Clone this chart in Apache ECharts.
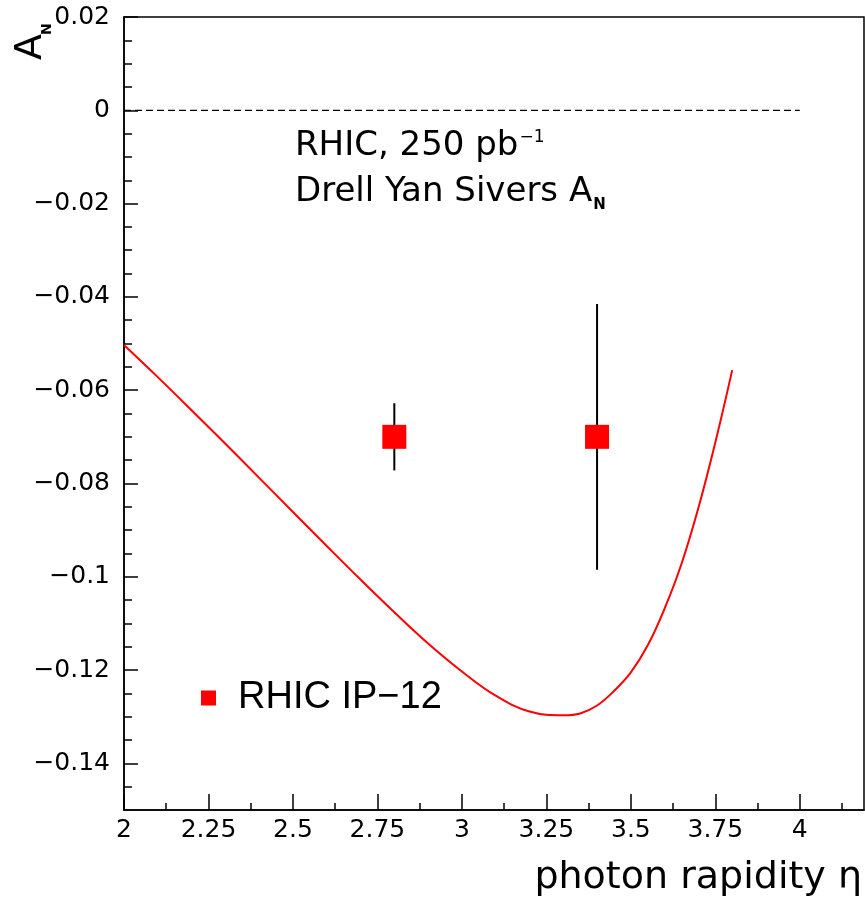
<!DOCTYPE html>
<html>
<head>
<meta charset="utf-8">
<script src="https://cdn.jsdelivr.net/npm/echarts@6/dist/echarts.min.js"></script>
<style>
html,body{margin:0;padding:0;background:#fff;}
#chart{width:865px;height:899px;}
</style>
</head>
<body>
<div id="chart"></div>
<script>
// ---- data ----
const curveX = [2.0, 2.1, 2.2, 2.3, 2.4, 2.5, 2.6, 2.7, 2.8, 2.9, 3.0, 3.1, 3.2, 3.3, 3.35, 3.4, 3.45, 3.5, 3.55, 3.6, 3.65, 3.7, 3.75, 3.8];
const curveY = [-0.0503, -0.0572, -0.0643, -0.0715, -0.0788, -0.0861, -0.0934, -0.1006, -0.1076, -0.1143, -0.1203, -0.1255, -0.1289, -0.1297, -0.1293, -0.1276, -0.1245, -0.1205, -0.1147, -0.1068, -0.0972, -0.0852, -0.0712, -0.0557];
const pointX = [2.8, 3.4];
const pointY = [-0.070, -0.070];
const pointErr = [0.0072, 0.0285];
const zeroLineX = [2.0, 4.0];
const zeroLineY = [0, 0];
const xMajor = [2, 2.25, 2.5, 2.75, 3, 3.25, 3.5, 3.75, 4];
const xLabels = ['2', '2.25', '2.5', '2.75', '3', '3.25', '3.5', '3.75', '4'];
const yMajor = [-0.14, -0.12, -0.10, -0.08, -0.06, -0.04, -0.02, 0, 0.02];
const yLabels = ['\u22120.14', '\u22120.12', '\u22120.1', '\u22120.08', '\u22120.06', '\u22120.04', '\u22120.02', '0', '0.02'];
const legendName = 'RHIC IP\u221212';
const textLine1 = 'RHIC, 250 pb';
const textSup = '\u22121';
const textLine2 = 'Drell Yan Sivers A';
const textSub = 'N';
const xTitle = 'photon rapidity \u03B7';

// ---- axis range ----
const X_MIN = 2, X_MAX = 4.19, Y_MIN = -0.15, Y_MAX = 0.02;

// minor tick positions
const xMinor = [];
for (let i = 0; i < xMajor.length; i++) {
  const v = +(xMajor[i] + 0.125).toFixed(4);
  if (v < X_MAX) xMinor.push(v);
}
const yMinor = [];
for (let k = -30; k <= 4; k++) {
  const v = +(k * 0.005).toFixed(4);
  if (k % 4 !== 0 && v > Y_MIN) yMinor.push(v);
}

function lab(values, labels, v) {
  for (let i = 0; i < values.length; i++) if (Math.abs(values[i] - v) < 1e-6) return labels[i];
  return '';
}

const ctx = document.createElement('canvas').getContext('2d');
ctx.font = '34px "DejaVu Sans"';
const w1 = ctx.measureText(textLine1).width;
const w2 = ctx.measureText(textLine2).width;
ctx.font = '38px "DejaVu Sans"';
const wA = ctx.measureText('A').width;

const chart = echarts.init(document.getElementById('chart'), null, {renderer: 'canvas'});
const tickFont = {fontFamily: 'DejaVu Sans', fontSize: 25, color: '#000'};

const option = {
  animation: false,
  backgroundColor: '#fff',
  grid: {left: 124, top: 17, right: 1, bottom: 89, show: true, borderColor: '#000', borderWidth: 1.5, backgroundColor: 'transparent'},
  legend: {
    data: [legendName], left: 196, top: 674, icon: 'rect', itemWidth: 15, itemHeight: 15,
    textStyle: {fontFamily: 'Liberation Sans', fontSize: 38, color: '#000', padding: [0, 0, 0, 17]}
  },
  xAxis: [
    {type: 'value', min: X_MIN, max: X_MAX, position: 'bottom',
     axisLine: {show: true, onZero: false, lineStyle: {color: '#000', width: 1.5}},
     axisTick: {show: true, inside: true, length: 16, customValues: xMajor, lineStyle: {color: '#000', width: 1.5}},
     axisLabel: Object.assign({customValues: xMajor, margin: 8, formatter: v => lab(xMajor, xLabels, v)}, tickFont),
     splitLine: {show: false}},
    {type: 'value', min: X_MIN, max: X_MAX, position: 'bottom',
     axisLine: {show: false, onZero: false},
     axisTick: {show: true, inside: true, length: 7, customValues: xMinor, lineStyle: {color: '#000', width: 1.5}},
     axisLabel: {show: false}, splitLine: {show: false}}
  ],
  yAxis: [
    {type: 'value', min: Y_MIN, max: Y_MAX, position: 'left',
     axisLine: {show: true, onZero: false, lineStyle: {color: '#000', width: 1.5}},
     axisTick: {show: true, inside: true, length: 14, customValues: yMajor, lineStyle: {color: '#000', width: 1.5}},
     axisLabel: Object.assign({customValues: yMajor, margin: 14, formatter: v => lab(yMajor, yLabels, v)}, tickFont),
     splitLine: {show: false}},
    {type: 'value', min: Y_MIN, max: Y_MAX, position: 'left',
     axisLine: {show: false, onZero: false},
     axisTick: {show: true, inside: true, length: 8, customValues: yMinor, lineStyle: {color: '#000', width: 1.5}},
     axisLabel: {show: false}, splitLine: {show: false}}
  ],
  series: [
    {type: 'line', name: 'zero', xAxisIndex: 0, yAxisIndex: 0, symbol: 'none', silent: true,
     data: zeroLineX.map((x, i) => [x, zeroLineY[i]]),
     lineStyle: {color: '#000', width: 1.2, type: [7, 4]}, z: 1},
    {type: 'line', name: 'curve', xAxisIndex: 0, yAxisIndex: 0, symbol: 'none', smooth: 0.4,
     data: curveX.map((x, i) => [x, curveY[i]]),
     lineStyle: {color: '#ff0000', width: 2}, z: 2},
    {type: 'custom', name: 'err', xAxisIndex: 0, yAxisIndex: 0,
     data: pointX.map((x, i) => [x, pointY[i] - pointErr[i], pointY[i] + pointErr[i]]),
     encode: {x: 0, y: [1, 2]},
     renderItem: (params, api) => {
       const p1 = api.coord([api.value(0), api.value(1)]);
       const p2 = api.coord([api.value(0), api.value(2)]);
       return {type: 'line', shape: {x1: p1[0], y1: p1[1], x2: p2[0], y2: p2[1]}, style: {stroke: '#000', lineWidth: 2}};
     }, z: 3},
    {type: 'scatter', name: legendName, xAxisIndex: 0, yAxisIndex: 0, symbol: 'rect', symbolSize: 24,
     data: pointX.map((x, i) => [x, pointY[i]]),
     itemStyle: {color: '#ff0000', opacity: 1}, z: 4}
  ],
  graphic: [
    {type: 'text', x: 295, y: 146, style: {text: textLine1, font: '34px "DejaVu Sans"', fill: '#000', align: 'left', verticalAlign: 'middle'}},
    {type: 'text', x: 295 + w1 + 1, y: 138, style: {text: textSup, font: '17px "DejaVu Sans"', fill: '#000', align: 'left', verticalAlign: 'middle'}},
    {type: 'text', x: 295, y: 192, style: {text: textLine2, font: '34px "DejaVu Sans"', fill: '#000', align: 'left', verticalAlign: 'middle'}},
    {type: 'text', x: 295 + w2 + 1, y: 205, style: {text: textSub, font: 'bold 15px "DejaVu Sans"', fill: '#000', align: 'left', verticalAlign: 'middle'}},
    {type: 'text', x: 862, y: 878, style: {text: xTitle, font: '38px "DejaVu Sans"', fill: '#000', align: 'right', verticalAlign: 'middle'}},
    {type: 'group', x: 31, y: 60, rotation: Math.PI / 2, children: [
      {type: 'text', x: 0, y: 0, style: {text: 'A', font: '38px "DejaVu Sans"', fill: '#000', align: 'left', verticalAlign: 'middle'}},
      {type: 'text', x: wA - 1, y: 16, style: {text: textSub, font: 'bold 14px "DejaVu Sans"', fill: '#000', align: 'left', verticalAlign: 'middle'}}
    ]}
  ]
};
chart.setOption(option);
</script>
</body>
</html>
